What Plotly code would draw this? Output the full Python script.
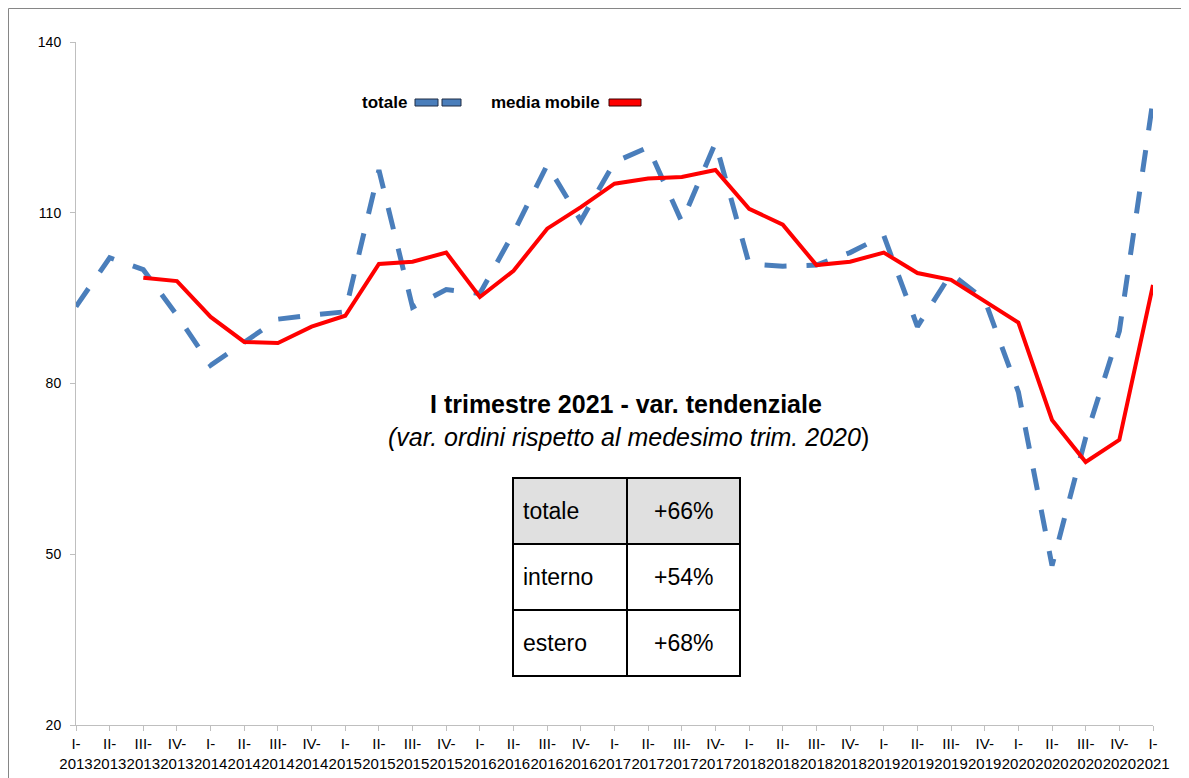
import plotly.graph_objects as go

# ---------------- data ----------------
quarters = ["I", "II", "III", "IV"]
years = list(range(2013, 2022))
categories = [f"{q}-<br>{y}" for y in years for q in quarters][:33]

totale = [93.5, 102.1, 100.0, 92.0, 83.2, 87.3, 91.3, 92.0, 92.6, 117.5,
          93.4, 96.5, 95.8, 106.5, 118.4, 108.6, 118.9, 121.5, 108.4, 122.3,
          101.0, 100.6, 100.8, 103.0, 106.0, 90.0, 99.3, 94.7, 78.5, 48.0,
          70.5, 89.2, 129.8]

media_mobile = [None, None, 98.6, 98.0, 91.7, 87.3, 87.1, 90.0, 91.9, 101.0,
                101.4, 103.0, 95.2, 99.8, 107.2, 111.0, 115.1, 116.0, 116.3, 117.5,
                110.7, 107.9, 100.8, 101.4, 103.0, 99.4, 98.2, 94.4, 90.7, 73.6,
                66.2, 70.1, 97.3]

y_ticks = [20, 50, 80, 110, 140]

legend_names = ["totale", "media mobile"]
title_line1 = "I trimestre 2021 - var. tendenziale"
title_line2 = "<i>(var. ordini rispetto al medesimo trim. 2020</i>)"
table_labels = ["totale", "interno", "estero"]
table_values = ["+66%", "+54%", "+68%"]

# ---------------- layout helpers (screen pixel coords) ----------------
W, H = 1189, 778
OFF = 8  # default page body margin
L, R, T, B = 76, 1153, 42, 725


def px(x):
    return (x - L) / (R - L)


def py(y):
    return (B - y) / (B - T)


BLUE = "#4A7EBB"
RED = "#FF0000"
FONT = "Liberation Sans, Arial, sans-serif"

fig = go.Figure()
fig.add_trace(go.Scatter(
    x=categories, y=totale, mode="lines", name=legend_names[0],
    line=dict(color=BLUE, width=5, dash="22px,20px"), showlegend=False))
fig.add_trace(go.Scatter(
    x=categories, y=media_mobile, mode="lines", name=legend_names[1],
    line=dict(color=RED, width=4), showlegend=False, connectgaps=False))

shapes = []
annotations = []

# outer chart frame
shapes.append(dict(type="rect", xref="paper", yref="paper",
                   x0=px(OFF + 0.5), x1=px(1400), y0=py(OFF + 0.5), y1=py(1000),
                   line=dict(color="#868686", width=1), fillcolor="rgba(0,0,0,0)",
                   layer="below"))

# legend (text followed by symbol, Excel style)
annotations.append(dict(xref="paper", yref="paper", x=px(409), y=py(102),
                        xanchor="right", yanchor="middle", showarrow=False,
                        text=f"<b>{legend_names[0]}</b>",
                        font=dict(family=FONT, size=17, color="#000000")))
for x0, x1 in [(415, 438), (442, 461)]:
    shapes.append(dict(type="rect", xref="paper", yref="paper",
                       x0=px(x0), x1=px(x1), y0=py(106), y1=py(99),
                       fillcolor=BLUE, line=dict(color="#1f2d44", width=1)))
annotations.append(dict(xref="paper", yref="paper", x=px(602), y=py(102),
                        xanchor="right", yanchor="middle", showarrow=False,
                        text=f"<b>{legend_names[1]}</b>",
                        font=dict(family=FONT, size=17, color="#000000")))
shapes.append(dict(type="rect", xref="paper", yref="paper",
                   x0=px(609), x1=px(641), y0=py(106), y1=py(99),
                   fillcolor=RED, line=dict(color="#3a0000", width=1)))

# title texts
annotations.append(dict(xref="paper", yref="paper", x=px(626), y=py(404),
                        xanchor="center", yanchor="middle", showarrow=False,
                        text=f"<b>{title_line1}</b>",
                        font=dict(family=FONT, size=25, color="#000000")))
annotations.append(dict(xref="paper", yref="paper", x=px(629), y=py(437),
                        xanchor="center", yanchor="middle", showarrow=False,
                        text=title_line2,
                        font=dict(family=FONT, size=25, color="#000000")))

# table
tx0, tx_mid, tx1 = 513, 627, 740
ty0, row_h = 478, 66
for i, (lab, val) in enumerate(zip(table_labels, table_values)):
    y_top = ty0 + i * row_h
    y_bot = y_top + row_h
    fill = "#E0E0E0" if i == 0 else "#FFFFFF"
    for (a, b) in [(tx0, tx_mid), (tx_mid, tx1)]:
        shapes.append(dict(type="rect", xref="paper", yref="paper",
                           x0=px(a), x1=px(b), y0=py(y_bot), y1=py(y_top),
                           fillcolor=fill, line=dict(color="#000000", width=2)))
    annotations.append(dict(xref="paper", yref="paper", x=px(tx0 + 8),
                            y=py((y_top + y_bot) / 2), xanchor="left",
                            yanchor="middle", showarrow=False, text=lab,
                            font=dict(family=FONT, size=23, color="#000000")))
    annotations.append(dict(xref="paper", yref="paper", x=px((tx_mid + tx1) / 2),
                            y=py((y_top + y_bot) / 2), xanchor="center",
                            yanchor="middle", showarrow=False, text=val,
                            font=dict(family=FONT, size=23, color="#000000")))

fig.update_layout(
    width=W - OFF, height=H - OFF,
    margin=dict(l=L - OFF, r=W - R, t=T - OFF, b=H - B, pad=0, autoexpand=False),
    paper_bgcolor="#FFFFFF", plot_bgcolor="#FFFFFF",
    shapes=shapes, annotations=annotations,
    font=dict(family=FONT, size=14, color="#000000"),
    xaxis=dict(type="category", range=[0, len(categories) - 1],
               automargin=False,
               showgrid=False, zeroline=False,
               showline=True, linecolor="#BFBFBF", linewidth=1,
               ticks="outside", ticklen=5, tickcolor="#BFBFBF",
               tickfont=dict(family=FONT, size=15, color="#000000"),
               tickangle=0),
    yaxis=dict(range=[20, 140], tickvals=y_ticks, showgrid=False,
               automargin=False,
               zeroline=False, showline=True, linecolor="#BFBFBF", linewidth=1,
               ticks="outside", ticklen=5, tickcolor="#BFBFBF",
               ticklabelstandoff=6,
               tickfont=dict(family=FONT, size=14, color="#000000")),
)

fig.write_html("out.html")
